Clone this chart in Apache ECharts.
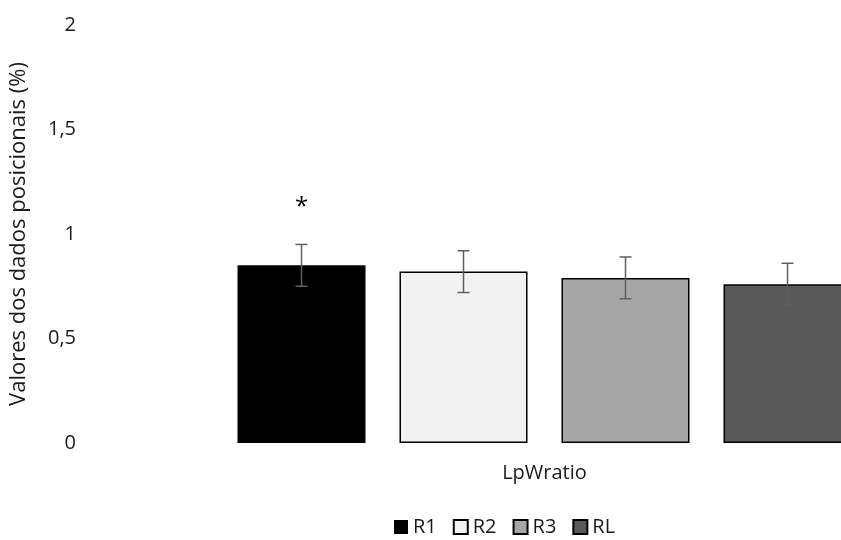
<!DOCTYPE html>
<html>
<head>
<meta charset="utf-8">
<script src="https://cdn.jsdelivr.net/npm/echarts@6/dist/echarts.min.js"></script>
<style>
  html, body { margin: 0; padding: 0; background: #fff; }
  #main { width: 841px; height: 540px; }
</style>
</head>
<body>
<div id="main"></div>
<script>
// dados
var categories = ['LpWratio'];
var seriesNames = ['R1', 'R2', 'R3', 'RL'];
var seriesValues = [0.85, 0.82, 0.79, 0.76];
var seriesErrors = [0.10, 0.10, 0.10, 0.10];
var seriesMarks = ['*', '', '', ''];
var yTicks = [0, 0.5, 1, 1.5, 2];

var colors = ['#000000', '#f2f2f2', '#a6a6a6', '#595959'];
var BAR_W = 128;
var BAR_GAP = 34;
var FONT = '"Open Sans", "Noto Sans", sans-serif';
var TXT = '#1a1a1a';

var chart = echarts.init(document.getElementById('main'));

var series = [];
for (var i = 0; i < seriesNames.length; i++) {
  series.push({
    name: seriesNames[i],
    type: 'bar',
    barWidth: BAR_W,
    barGap: (BAR_GAP / BAR_W * 100) + '%',
    itemStyle: {
      color: colors[i],
      borderColor: '#000',
      borderWidth: i == 0 ? 0 : 1.5
    },
    label: {
      show: seriesMarks[i] != '',
      position: 'top',
      distance: 46,
      formatter: seriesMarks[i],
      fontSize: 24,
      color: '#000',
      fontFamily: FONT
    },
    data: [seriesValues[i]]
  });
}

// barras de erro
for (var i = 0; i < seriesNames.length; i++) {
  (function (idx) {
    series.push({
      type: 'custom',
      silent: true,
      z: 10,
      renderItem: function (params, api) {
        var offset = (idx - (seriesNames.length - 1) / 2) * (BAR_W + BAR_GAP);
        var v = seriesValues[idx], e = seriesErrors[idx];
        var hi = api.coord([0, v + e]);
        var lo = api.coord([0, v - e]);
        var x = hi[0] + offset;
        var cap = 6;
        var style = { stroke: '#5f5f5f', lineWidth: 1.5 };
        return {
          type: 'group',
          children: [
            { type: 'line', shape: { x1: x, y1: hi[1], x2: x, y2: lo[1] }, style: style },
            { type: 'line', shape: { x1: x - cap, y1: hi[1], x2: x + cap, y2: hi[1] }, style: style },
            { type: 'line', shape: { x1: x - cap, y1: lo[1], x2: x + cap, y2: lo[1] }, style: style }
          ]
        };
      },
      data: [[0, seriesValues[idx]]]
    });
  })(i);
}

chart.setOption({
  animation: false,
  textStyle: { fontFamily: FONT },
  grid: { left: 84, top: 25, width: 921, height: 418, outerBoundsMode: 'none', containLabel: false },
  legend: {
    data: seriesNames,
    left: 389,
    top: 512,
    itemWidth: 14,
    itemHeight: 14,
    itemGap: 16,
    icon: 'rect',
    textStyle: { fontSize: 20, color: TXT, fontFamily: FONT }
  },
  xAxis: {
    type: 'category',
    data: categories,
    axisLine: { show: false },
    axisTick: { show: false },
    axisLabel: { fontSize: 20, color: TXT, margin: 20 }
  },
  yAxis: {
    type: 'value',
    min: yTicks[0],
    max: yTicks[yTicks.length - 1],
    interval: 0.5,
    name: 'Valores dos dados posicionais (%)',
    nameLocation: 'middle',
    nameGap: 54,
    nameTextStyle: { fontSize: 22, color: TXT, fontFamily: FONT },
    axisLine: { show: false },
    axisTick: { show: false },
    splitLine: { show: false },
    axisLabel: {
      fontSize: 20,
      color: TXT,
      margin: 8,
      formatter: function (v) { return String(v).replace('.', ','); }
    }
  },
  series: series
});
</script>
</body>
</html>
